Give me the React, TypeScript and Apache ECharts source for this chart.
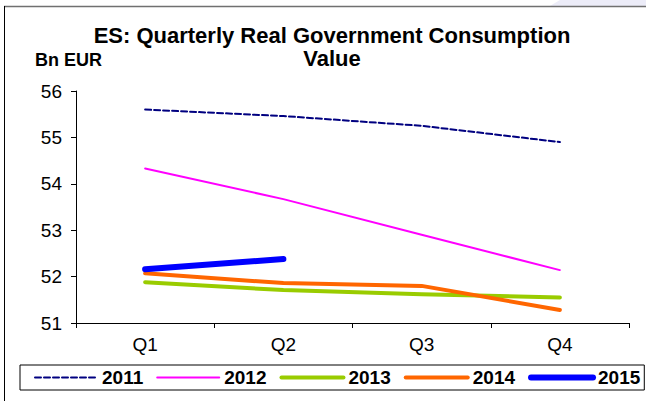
import React, { useEffect, useRef } from "react";
import * as echarts from "echarts";

const categories = ["Q1", "Q2", "Q3", "Q4"];
const seriesNames = ["2011", "2012", "2013", "2014", "2015"];
const v2011 = [55.6, 55.46, 55.25, 54.9];
const v2012 = [54.33, 53.67, 52.9, 52.14];
const v2013 = [51.88, 51.71, 51.62, 51.55];
const v2014 = [52.07, 51.86, 51.8, 51.28];
const v2015 = [52.16, 52.38];
const yTicks = { min: 51, max: 56, interval: 1 };

const FONT = "'Liberation Sans', Arial, sans-serif";

export default function App() {
  const ref = useRef<HTMLDivElement>(null);
  useEffect(() => {
    if (!ref.current) return;
    const chart = echarts.init(ref.current, undefined, { renderer: "svg" });
    const styles: Record<string, { color: string; width: number; type: any }> = {
      "2011": { color: "#000080", width: 2, type: [6, 3] },
      "2012": { color: "#ff00ff", width: 2, type: "solid" },
      "2013": { color: "#99cc00", width: 4, type: "solid" },
      "2014": { color: "#ff6600", width: 4, type: "solid" },
      "2015": { color: "#0000ff", width: 6, type: "solid" },
    };
    const values: Record<string, number[]> = { "2011": v2011, "2012": v2012, "2013": v2013, "2014": v2014, "2015": v2015 };
    chart.setOption({
      animation: false,
      backgroundColor: "#ffffff",
      textStyle: { fontFamily: FONT, color: "#000" },
      title: {
        text: "ES: Quarterly Real Government Consumption\nValue",
        left: 332,
        top: 24,
        padding: 0,
        textAlign: "center",
        textStyle: { fontFamily: FONT, fontSize: 22, fontWeight: "bold", color: "#000", lineHeight: 23 },
      },
      graphic: [
        { type: "polygon", shape: { points: [[560, 0], [646, 0], [646, 6], [550, 6]] }, style: { fill: "#ececf8" } },
        { type: "line", shape: { x1: 4, y1: 6.5, x2: 646, y2: 6.5 }, style: { stroke: "#707070", lineWidth: 1.5 } },
        { type: "line", shape: { x1: 4.5, y1: 6, x2: 4.5, y2: 401 }, style: { stroke: "#000", lineWidth: 1 } },
        {
          type: "text",
          left: 35,
          top: 51,
          style: { text: "Bn EUR", fontFamily: FONT, fontSize: 18, fontWeight: "bold", fill: "#000" },
        },
      ],
      legend: {
        data: seriesNames.map((n) => ({
          name: n,
          lineStyle: { width: styles[n].width, type: styles[n].type, color: styles[n].color, cap: "round" },
        })),
        left: 20,
        top: 365,
        width: 620,
        orient: "horizontal",
        borderColor: "#000",
        borderWidth: 1,
        padding: [3, 4, 3, 14],
        itemGap: 13,
        itemWidth: 62,
        itemHeight: 12,
        itemStyle: { opacity: 0 },
        textStyle: { fontFamily: FONT, fontSize: 19, fontWeight: "bold", color: "#000" },
      },
      grid: { left: 76, right: 17, top: 91, bottom: 78, containLabel: false },
      xAxis: {
        type: "category",
        data: categories,
        boundaryGap: true,
        axisLine: { lineStyle: { color: "#000", width: 1 } },
        axisTick: { show: true, length: 5, lineStyle: { color: "#000" } },
        axisLabel: { color: "#000", fontSize: 19, fontFamily: FONT, margin: 12 },
        splitLine: { show: false },
      },
      yAxis: {
        type: "value",
        min: yTicks.min,
        max: yTicks.max,
        interval: yTicks.interval,
        axisLine: { show: true, lineStyle: { color: "#000", width: 1 } },
        axisTick: { show: true, length: 5, lineStyle: { color: "#000" } },
        axisLabel: { color: "#000", fontSize: 19, fontFamily: FONT, margin: 14 },
        splitLine: { show: false },
      },
      series: seriesNames.map((n) => ({
        name: n,
        type: "line",
        data: values[n],
        symbol: "none",
        smooth: false,
        lineStyle: { color: styles[n].color, width: styles[n].width, type: styles[n].type, cap: "round", join: "round" },
        itemStyle: { color: styles[n].color },
      })),
    });
    return () => chart.dispose();
  }, []);
  return <div ref={ref} style={{ width: 646, height: 401, position: "absolute", left: 0, top: 0 }} />;
}
